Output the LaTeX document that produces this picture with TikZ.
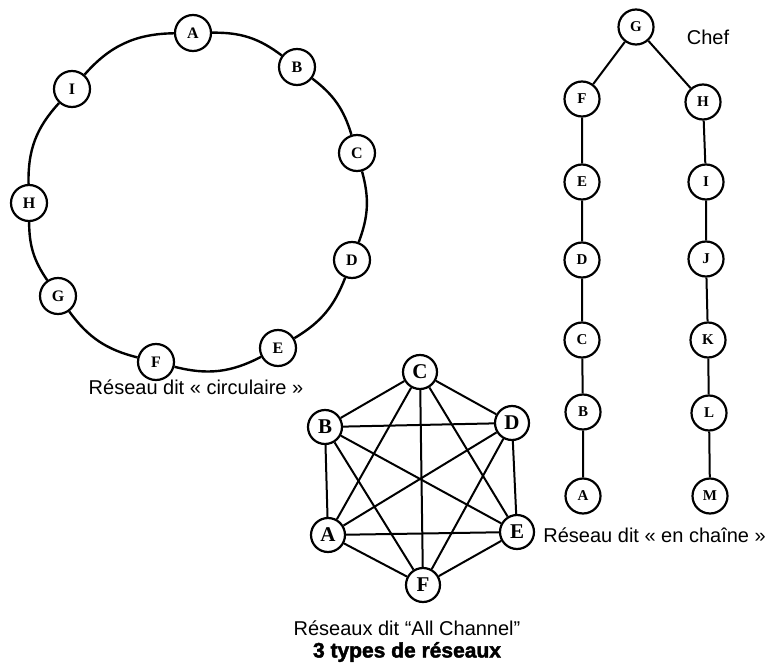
\documentclass[tikz,border=0pt]{standalone}
\usepackage{fontspec}
\setmainfont{Liberation Sans}
\newfontfamily\letterfont{Liberation Serif}
\newfontfamily\heavyfont{Liberation Sans Bold}[FakeBold=2]
\begin{document}
\begin{tikzpicture}[x=1pt,y=-1pt,
  pnode/.style={circle,draw,fill=white,inner sep=0pt,line width=2.2pt},
  ringnode/.style={pnode,minimum size=36pt,font=\letterfont\bfseries\fontsize{16}{16}\selectfont},
  chainnode/.style={pnode,minimum size=35pt,font=\letterfont\bfseries\fontsize{15}{15}\selectfont},
  allnode/.style={pnode,minimum size=34pt,font=\letterfont\bfseries\fontsize{21}{21}\selectfont},
  ringline/.style={line width=2.4pt},
  chainline/.style={line width=2pt},
  allline/.style={line width=2pt},
  caption/.style={font=\fontsize{20}{22}\selectfont,inner sep=0pt}]
\useasboundingbox (0,0) rectangle (768,671);

% circular network
\node[ringnode] (cA) at (193,33) {A};
\node[ringnode] (cB) at (297,67) {B};
\node[ringnode] (cC) at (357,153) {C};
\node[ringnode] (cD) at (352,260) {D};
\node[ringnode] (cE) at (278,348) {E};
\node[ringnode] (cF) at (156,362) {F};
\node[ringnode] (cG) at (58,296) {G};
\node[ringnode] (cH) at (29,203) {H};
\node[ringnode] (cI) at (72,89) {I};
\draw[ringline] (cA) to[bend left=19] (cB);
\draw[ringline] (cB) to[bend left=18] (cC);
\draw[ringline] (cC) to[bend left=18] (cD);
\draw[ringline] (cD) to[bend left=19] (cE);
\draw[ringline] (cE) to[bend left=21] (cF);
\draw[ringline] (cF) to[bend left=20] (cG);
\draw[ringline] (cG) to[bend left=17] (cH);
\draw[ringline] (cH) to[bend left=22] (cI);
\draw[ringline] (cI) to[bend left=24] (cA);
\node[caption] (capC) at (196,387) {Réseau dit « circulaire »};

% chain network
\node[chainnode] (hG) at (636,27) {G};
\node[chainnode] (hF) at (582,99) {F};
\node[chainnode] (hE) at (582,182) {E};
\node[chainnode] (hD) at (582,260) {D};
\node[chainnode] (hC) at (582,340) {C};
\node[chainnode] (hB) at (583,412) {B};
\node[chainnode] (hA) at (583,496) {A};
\node[chainnode] (hH) at (703,102) {H};
\node[chainnode] (hI) at (706,182) {I};
\node[chainnode] (hJ) at (706,259) {J};
\node[chainnode] (hK) at (708,340) {K};
\node[chainnode] (hL) at (709,413) {L};
\node[chainnode] (hM) at (710,496) {M};
\draw[chainline] (hG) -- (hF) -- (hE) -- (hD) -- (hC) -- (hB) -- (hA);
\draw[chainline] (hG) -- (hH) -- (hI) -- (hJ) -- (hK) -- (hL) -- (hM);
\node[caption] (chef) at (708,37) {Chef};
\node[caption,anchor=east] (capH) at (766,535) {Réseau dit « en chaîne »};

% all-channel network
\node[allnode] (aC) at (420,372) {C};
\node[allnode] (aD) at (512,423) {D};
\node[allnode] (aB) at (325,427) {B};
\node[allnode] (aA) at (328,535) {A};
\node[allnode] (aE) at (517,532) {E};
\node[allnode] (aF) at (423,585) {F};
\foreach \u/\v in {aC/aB,aC/aD,aC/aA,aC/aF,aC/aE,aB/aD,aB/aA,aB/aE,aB/aF,aD/aA,aD/aE,aD/aF,aA/aE,aA/aF,aE/aF}
  \draw[allline] (\u) -- (\v);
\node[caption] (capA) at (407,628) {Réseaux dit “All Channel”};
\node[caption,font=\heavyfont\fontsize{21}{22}\selectfont] (title) at (407,652) {3 types de réseaux};
\end{tikzpicture}
\end{document}
